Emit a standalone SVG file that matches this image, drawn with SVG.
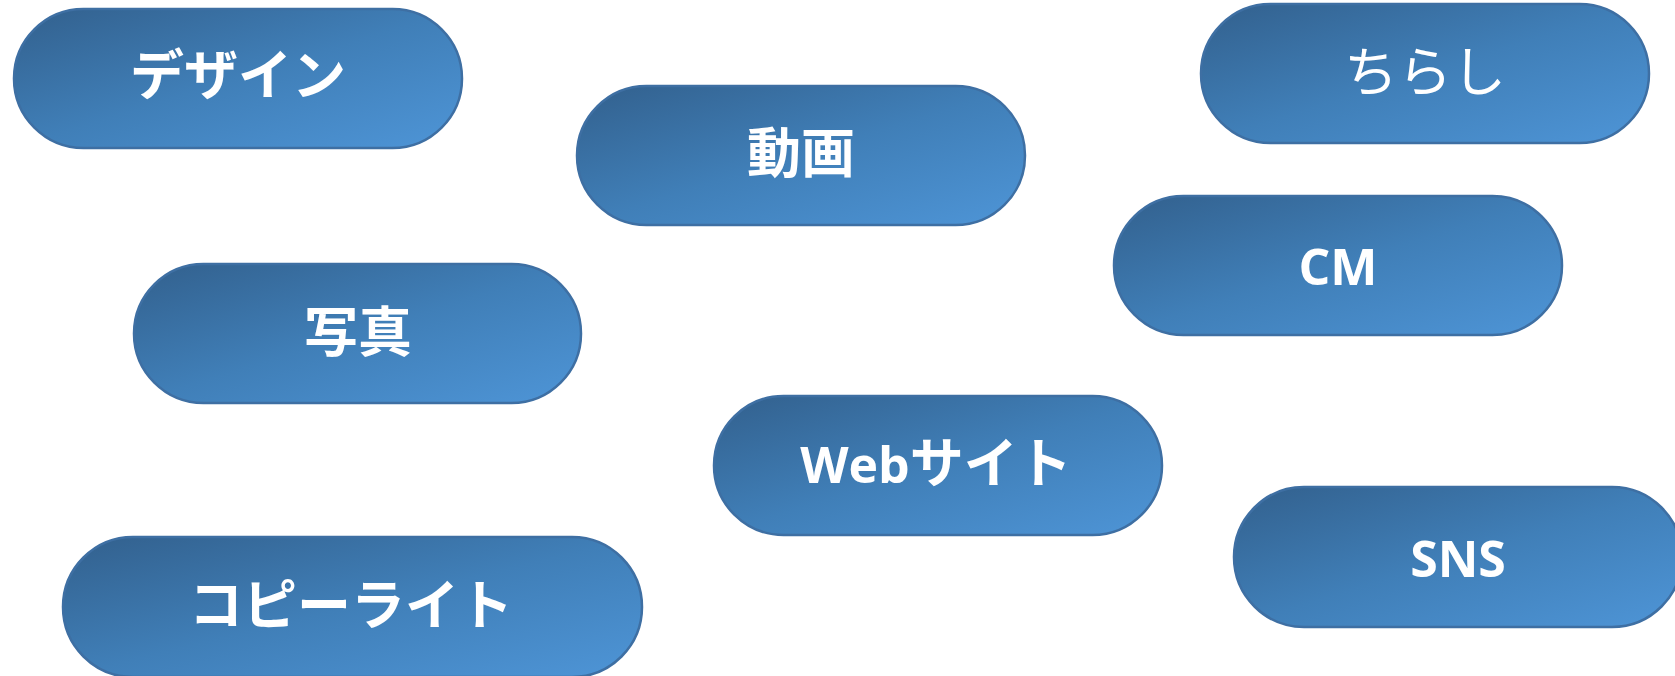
<svg xmlns="http://www.w3.org/2000/svg" width="1675" height="676" viewBox="0 0 1675 676">
<defs>
<linearGradient id="g" x1="0" y1="0" x2="1" y2="1">
<stop offset="0" stop-color="#32608d"/>
<stop offset="0.5" stop-color="#407fb8"/>
<stop offset="1" stop-color="#4e95d7"/>
</linearGradient>
<style>
.pill{fill:url(#g);stroke:#3e6fa3;stroke-width:2.5}
.t{fill:#ffffff;font-family:"Noto Sans CJK JP","Noto Sans",sans-serif;font-weight:bold;font-size:54px;text-anchor:middle}
.r{font-weight:normal}
.l{font-family:"Open Sans","Noto Sans",sans-serif;font-size:50px}
</style>
</defs>
<rect width="1675" height="676" fill="#ffffff"/>
<g id="connectors"></g>
<g id="design"><rect class="pill" x="14" y="9" width="448" height="139" rx="69.5"/><text class="t" x="238" y="95">デザイン</text></g>
<g id="douga"><rect class="pill" x="577" y="86" width="448" height="139" rx="69.5"/><text class="t" x="801" y="173">動画</text></g>
<g id="chirashi"><rect class="pill" x="1201" y="4" width="448" height="139" rx="69.5"/><text class="t r" x="1425" y="92">ちらし</text></g>
<g id="cm"><rect class="pill" x="1114" y="196" width="448" height="139" rx="69.5"/><text class="t l" x="1338" y="285">CM</text></g>
<g id="shashin"><rect class="pill" x="134" y="264" width="447" height="139" rx="69.5"/><text class="t" x="358" y="352">写真</text></g>
<g id="website"><rect class="pill" x="714" y="396" width="448" height="139" rx="69.5"/><text class="t" x="936" y="483"><tspan class="l">Web</tspan>サイト</text></g>
<g id="copywrite"><rect class="pill" x="63" y="537" width="579" height="140" rx="70"/><text class="t" x="351" y="625">コピーライト</text></g>
<g id="sns"><rect class="pill" x="1234" y="487" width="448" height="140" rx="70"/><text class="t l" x="1458" y="577">SNS</text></g>
</svg>
